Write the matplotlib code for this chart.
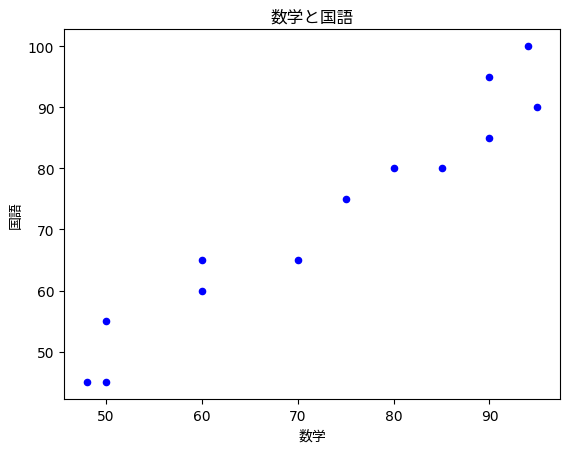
import matplotlib
matplotlib.use("Agg")
import matplotlib.pyplot as plt

# DejaVu for the digits, Noto CJK for the Japanese labels
plt.rcParams['font.family'] = ['DejaVu Sans', 'Noto Sans CJK JP']

# --- Data ---
math_scores = [48, 50, 50, 60, 60, 70, 75, 80, 85, 90, 90, 94, 95]
japanese_scores = [45, 45, 55, 60, 65, 65, 75, 80, 80, 85, 95, 100, 90]

# --- Chart ---
fig = plt.figure(figsize=(5.7, 4.52), dpi=100)
ax = fig.add_axes([64 / 570, 52 / 452, 496 / 570, 369.6 / 452])

ax.scatter(math_scores, japanese_scores, s=20, color="blue")

ax.set_title("数学と国語", fontsize=12)
ax.set_xlabel("数学", fontsize=10)
ax.set_ylabel("国語", fontsize=10)

fig.savefig("out.png", dpi=100)
